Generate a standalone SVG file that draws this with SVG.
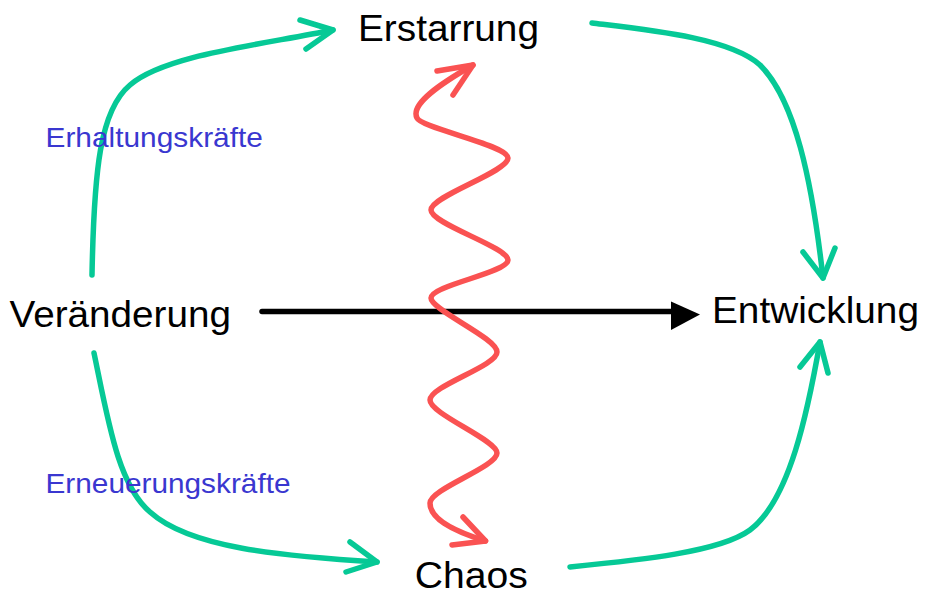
<svg xmlns="http://www.w3.org/2000/svg" width="925" height="596" viewBox="0 0 925 596">
  <style>
    .node { font-family: "Liberation Sans", Arial, Helvetica, sans-serif; font-size: 36.5px; fill: #000000; }
    .force { font-family: "Liberation Sans", Arial, Helvetica, sans-serif; font-size: 28.5px; fill: #3a37d0; }
    .green { fill: none; stroke: #06c996; stroke-width: 5.5; stroke-linecap: round; stroke-linejoin: round; }
    .red { fill: none; stroke: #fa5252; stroke-width: 5.5; stroke-linecap: round; stroke-linejoin: round; }
    .main { fill: none; stroke: #000000; stroke-width: 5.5; stroke-linecap: round; }
  </style>

  <rect x="0" y="0" width="925" height="596" fill="#ffffff"/>

  <!-- connectors -->
  <g id="connectors">
    <!-- Veränderung -> Erstarrung -->
    <path class="green" d="M92,275 C94,170 100,110 130,85 C165,55 260,45 333,30"/>
    <path class="green" d="M300,20 L333,30 L306,49"/>

    <!-- Erstarrung -> Entwicklung -->
    <path class="green" d="M592,23 C650,30 730,38 760,65 C795,100 812,180 823,278"/>
    <path class="green" d="M803,252 L823,278 L835,248"/>

    <!-- Veränderung -> Chaos -->
    <path class="green" d="M94,353 C108,420 118,485 150,512 C190,548 280,556 377,562"/>
    <path class="green" d="M350,542 L377,562 L346,572"/>

    <!-- Chaos -> Entwicklung -->
    <path class="green" d="M570,567 C640,560 720,552 750,530 C790,500 808,410 820,342"/>
    <path class="green" d="M800,367 L820,342 L828,373"/>

    <!-- Veränderung -> Entwicklung -->
    <line class="main" x1="262" y1="311.5" x2="676" y2="311.5"/>
    <polygon points="671,301.5 700,314.5 671,330" fill="#000000"/>

    <!-- oscillation between Erstarrung and Chaos -->
    <path class="red" d="M473,65 C440,84 410,104 417,118
      C421,128 508,145 508,158
      C508,172 431,196 431,210
      C431,224 508,247 508,260
      C508,273 431,285 431,298
      C431,310 497,338 497,352
      C497,366 430,386 430,400
      C430,414 497,440 497,453
      C497,467 430,489 430,503
      C430,518 450,530 485.5,541"/>
    <path class="red" d="M437,71 L473,65 L453,95"/>
    <path class="red" d="M463,517 L485.5,541 L452,545"/>
  </g>

  <!-- nodes -->
  <g id="node-erstarrung">
    <text class="node" x="358" y="41" textLength="181" lengthAdjust="spacingAndGlyphs">Erstarrung</text>
  </g>
  <g id="node-veraenderung">
    <text class="node" x="9.5" y="327" textLength="221.5" lengthAdjust="spacingAndGlyphs">Veränderung</text>
  </g>
  <g id="node-entwicklung">
    <text class="node" x="712" y="323" textLength="207" lengthAdjust="spacingAndGlyphs">Entwicklung</text>
  </g>
  <g id="node-chaos">
    <text class="node" x="414.7" y="588" textLength="113" lengthAdjust="spacingAndGlyphs">Chaos</text>
  </g>

  <!-- force labels -->
  <g id="label-erhaltung">
    <text class="force" x="45.5" y="146.7" textLength="217.4" lengthAdjust="spacingAndGlyphs">Erhaltungskräfte</text>
  </g>
  <g id="label-erneuerung">
    <text class="force" x="45.5" y="493" textLength="245" lengthAdjust="spacingAndGlyphs">Erneuerungskräfte</text>
  </g>
</svg>
